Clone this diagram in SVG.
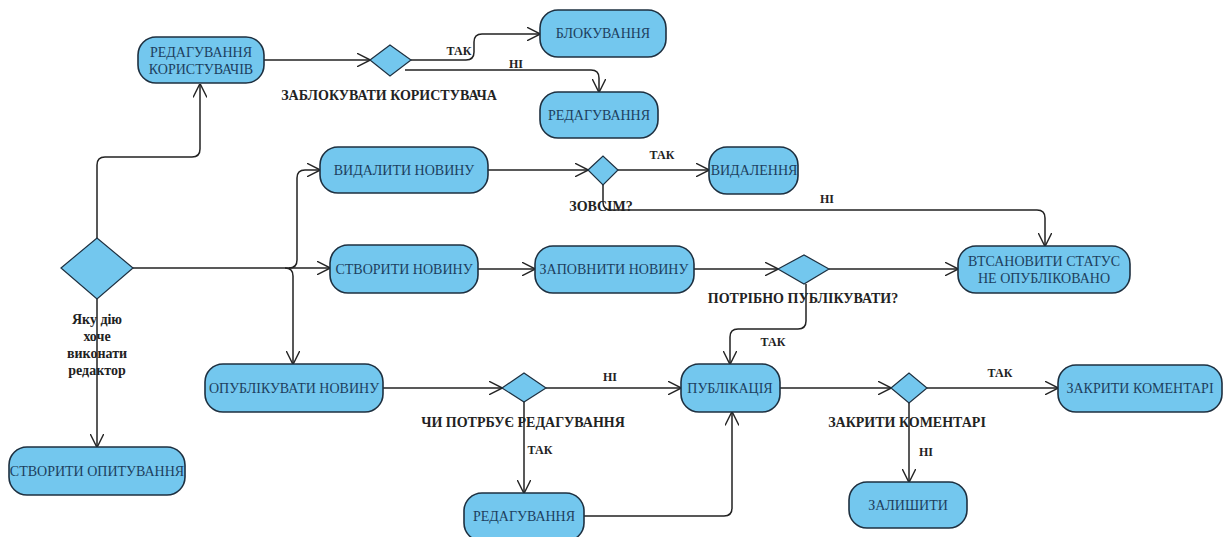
<svg xmlns="http://www.w3.org/2000/svg" width="1230" height="537" viewBox="0 0 1230 537">
<defs>
<marker id="arr" viewBox="0 0 14 14" refX="13.5" refY="7" markerWidth="14" markerHeight="14" markerUnits="userSpaceOnUse" orient="auto">
<path d="M0,0 L14,7 L0,14" fill="none" stroke="#222" stroke-width="1.4"/>
</marker>
<style>
.n{fill:#73c7ee;stroke:#1e3040;stroke-width:1.6}
.d{fill:#73c7ee;stroke:#1e3040;stroke-width:1.2}
.t{font-family:"Liberation Serif","Times New Roman","DejaVu Serif",serif;font-size:14px;fill:#1d3f5e;text-anchor:middle}
.l{font-family:"Liberation Serif","Times New Roman","DejaVu Serif",serif;font-size:14px;font-weight:bold;fill:#222;text-anchor:middle}
.s{font-family:"Liberation Serif","Times New Roman","DejaVu Serif",serif;font-size:12px;font-weight:bold;fill:#222;text-anchor:middle}
.c path{fill:none;stroke:#222;stroke-width:1.5;marker-end:url(#arr)}
</style>
</defs>
<rect width="1230" height="537" fill="#fff"/>
<g class="c" id="connectors">
<path d="M97,238 V165 Q97,157 105,157 H192 Q200,157 200,149 V84"/>
<path d="M264,60 H370"/>
<path d="M411,60 H466 Q474,60 474,52 V42 Q474,34 482,34 H540"/>
<path d="M405,70 H591 Q599,70 599,78 V92"/>
<path d="M133,268 H330"/>
<path d="M289,268 Q297,268 297,260 V178 Q297,170 305,170 H320"/>
<path d="M285,268 Q293,268 293,276 V364"/>
<path d="M97,299 V447"/>
<path d="M488,170 H588"/>
<path d="M618,170 H709"/>
<path d="M603,185 V202 Q603,210 611,210 H1037 Q1045,210 1045,218 V246"/>
<path d="M478,269 H535"/>
<path d="M694,269 H778"/>
<path d="M829,269 H958"/>
<path d="M806,284 V321 Q806,329 798,329 H738 Q730,329 730,337 V364"/>
<path d="M383,388 H502"/>
<path d="M546,388 H681"/>
<path d="M524,402 V493"/>
<path d="M584,516 H724 Q732,516 732,508 V412"/>
<path d="M780,388 H891"/>
<path d="M927,388 H1058"/>
<path d="M909,403 V482"/>
</g>
<g id="n-users"><rect class="n" x="138" y="37" width="126" height="46" rx="18"/><text class="t" x="201" y="57">РЕДАГУВАННЯ</text><text class="t" x="201" y="74">КОРИСТУВАЧІВ</text></g>
<g id="d-block"><polygon class="d" points="370,60 390,45 411,60 390,76"/><text class="l" x="389" y="100">ЗАБЛОКУВАТИ КОРИСТУВАЧА</text></g>
<g id="n-blocking"><rect class="n" x="540" y="10" width="126" height="47" rx="18"/><text class="t" x="603" y="38">БЛОКУВАННЯ</text></g>
<g id="n-edit1"><rect class="n" x="540" y="92" width="118" height="46" rx="18"/><text class="t" x="599" y="120">РЕДАГУВАННЯ</text></g>
<g id="d-main"><polygon class="d" points="61,268 97,238 133,268 97,299"/><text class="l" x="97" y="324">Яку дію</text><text class="l" x="97" y="341">хоче</text><text class="l" x="97" y="358">виконати</text><text class="l" x="97" y="375">редактор</text></g>
<g id="n-delete"><rect class="n" x="320" y="147" width="168" height="46" rx="18"/><text class="t" x="404" y="175">ВИДАЛИТИ НОВИНУ</text></g>
<g id="d-full"><polygon class="d" points="588,170 603,156 618,170 603,185"/><text class="l" x="601" y="211">ЗОВСІМ?</text></g>
<g id="n-deletion"><rect class="n" x="709" y="147" width="89" height="47" rx="18"/><text class="t" x="754" y="175">ВИДАЛЕННЯ</text></g>
<g id="n-create"><rect class="n" x="330" y="245" width="148" height="48" rx="18"/><text class="t" x="404" y="274">СТВОРИТИ НОВИНУ</text></g>
<g id="n-fill"><rect class="n" x="535" y="246" width="159" height="47" rx="18"/><text class="t" x="614" y="274">ЗАПОВНИТИ НОВИНУ</text></g>
<g id="d-publish"><polygon class="d" points="778,269 804,255 829,269 804,284"/><text class="l" x="803" y="303">ПОТРІБНО ПУБЛІКУВАТИ?</text></g>
<g id="n-status"><rect class="n" x="958" y="246" width="172" height="47" rx="18"/><text class="t" x="1044" y="266">ВТСАНОВИТИ СТАТУС</text><text class="t" x="1044" y="283">НЕ ОПУБЛІКОВАНО</text></g>
<g id="n-pubnews"><rect class="n" x="205" y="364" width="178" height="48" rx="18"/><text class="t" x="294" y="393">ОПУБЛІКУВАТИ НОВИНУ</text></g>
<g id="d-edit"><polygon class="d" points="502,388 524,373 546,388 524,402"/><text class="l" x="523" y="427">ЧИ ПОТРБУЄ РЕДАГУВАННЯ</text></g>
<g id="n-publication"><rect class="n" x="681" y="364" width="99" height="48" rx="18"/><text class="t" x="730" y="393">ПУБЛІКАЦІЯ</text></g>
<g id="n-edit2"><rect class="n" x="464" y="493" width="120" height="48" rx="18"/><text class="t" x="524" y="521">РЕДАГУВАННЯ</text></g>
<g id="d-close"><polygon class="d" points="891,388 909,373 927,388 909,403"/><text class="l" x="907" y="427">ЗАКРИТИ КОМЕНТАРІ</text></g>
<g id="n-closecom"><rect class="n" x="1058" y="365" width="164" height="47" rx="18"/><text class="t" x="1140" y="393">ЗАКРИТИ КОМЕНТАРІ</text></g>
<g id="n-leave"><rect class="n" x="849" y="482" width="118" height="46" rx="18"/><text class="t" x="908" y="510">ЗАЛИШИТИ</text></g>
<g id="n-poll"><rect class="n" x="9" y="447" width="176" height="48" rx="18"/><text class="t" x="97" y="476">СТВОРИТИ ОПИТУВАННЯ</text></g>
<g id="edge-labels">
<text class="s" x="459" y="55">ТАК</text>
<text class="s" x="516" y="68">НІ</text>
<text class="s" x="662" y="159">ТАК</text>
<text class="s" x="827" y="203">НІ</text>
<text class="s" x="773" y="346">ТАК</text>
<text class="s" x="610" y="381">НІ</text>
<text class="s" x="540" y="454">ТАК</text>
<text class="s" x="1000" y="377">ТАК</text>
<text class="s" x="926" y="456">НІ</text>
</g>
</svg>
